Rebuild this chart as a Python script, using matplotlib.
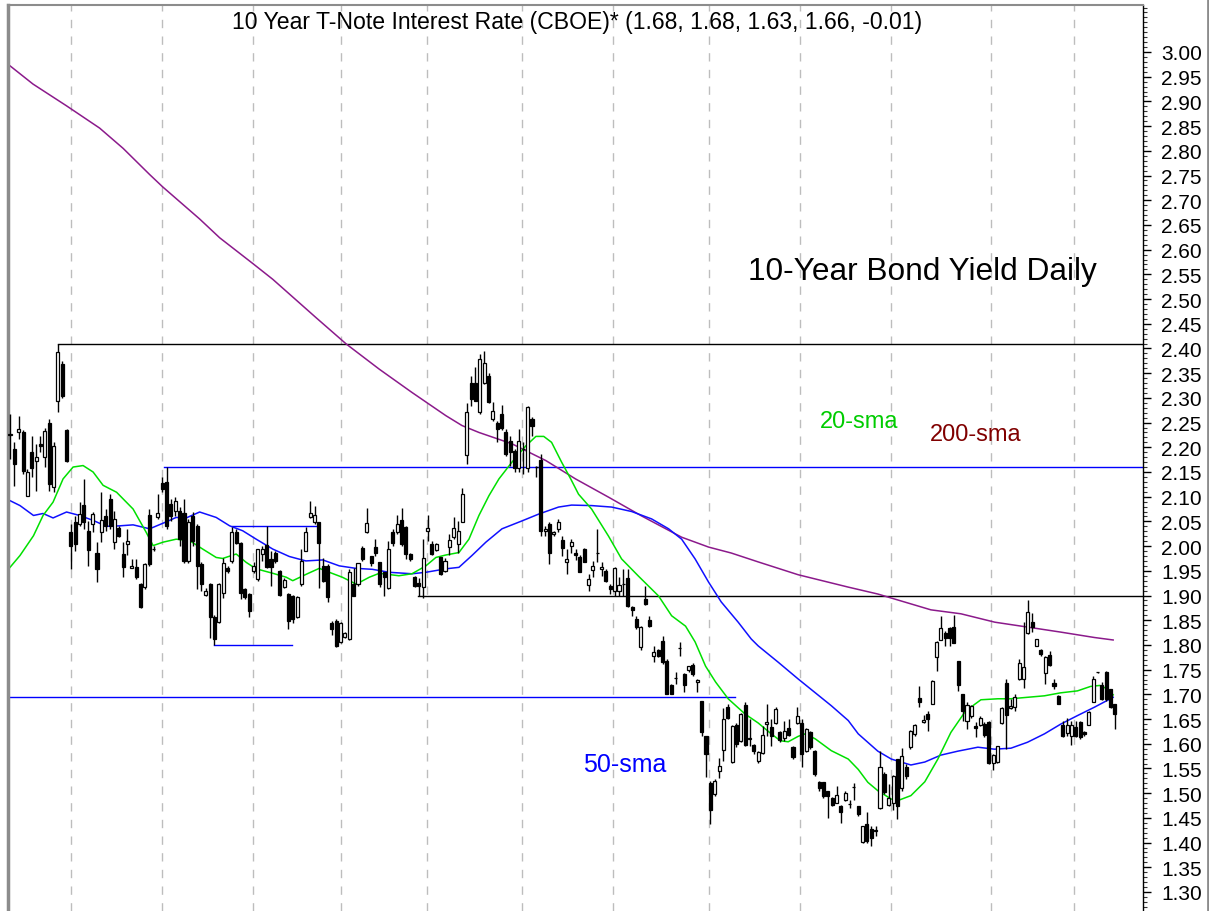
import numpy as np
import matplotlib
matplotlib.use("Agg")
import matplotlib.pyplot as plt
from matplotlib.lines import Line2D
from matplotlib.ticker import MultipleLocator

plt.rcParams['font.family'] = ['Liberation Sans', 'DejaVu Sans']

# daily OHLC, one value per trading day
opens = [
    2.225, 2.197, 2.231, 2.231, 2.101, 2.190, 2.172, 2.207, 2.180, 2.249,
    2.120, 2.294, 2.369, 2.235, 2.029, 2.049, 2.045, 2.083, 2.031, 2.045,
    1.986, 2.029, 2.060, 2.095, 2.008, 2.037, 1.984, 2.004, 1.956, 1.957,
    1.923, 1.917, 2.062, 1.994, 2.058, 2.128, 2.129, 2.085, 2.072, 2.072,
    2.066, 1.970, 2.061, 2.041, 1.964, 1.901, 1.923, 1.856, 1.846, 1.906,
    1.956, 1.970, 2.029, 2.006, 1.913, 1.903, 1.950, 1.933, 1.985, 2.002,
    1.974, 1.987, 1.950, 1.918, 1.903, 1.900, 1.856, 1.923, 1.991, 2.059,
    2.048, 2.048, 1.960, 1.960, 1.844, 1.849, 1.805, 1.817, 1.812, 1.923,
    1.923, 1.997, 2.028, 1.979, 1.999, 1.967, 1.947, 1.916, 2.029, 2.028,
    2.052, 2.038, 1.984, 1.937, 1.925, 1.917, 2.031, 2.004, 1.993, 1.977,
    1.950, 1.998, 2.018, 2.004, 2.049, 2.184, 2.331, 2.331, 2.271, 2.331,
    2.345, 2.257, 2.250, 2.267, 2.230, 2.213, 2.193, 2.159, 2.197, 2.159,
    2.257, 2.161, 2.175, 2.030, 2.045, 2.025, 2.035, 2.013, 1.967, 2.001,
    1.987, 1.977, 1.994, 1.921, 1.952, 1.986, 1.954, 1.950, 1.920, 1.910,
    1.910, 1.923, 1.935, 1.876, 1.852, 1.796, 1.893, 1.850, 1.778, 1.790,
    1.807, 1.768, 1.718, 1.733, 1.793, 1.741, 1.750, 1.759, 1.724, 1.687,
    1.615, 1.520, 1.498, 1.545, 1.587, 1.674, 1.564, 1.637, 1.606, 1.678,
    1.610, 1.597, 1.566, 1.581, 1.640, 1.633, 1.641, 1.623, 1.611, 1.631,
    1.594, 1.641, 1.642, 1.586, 1.623, 1.586, 1.522, 1.522, 1.505, 1.490,
    1.481, 1.475, 1.487, 1.478, 1.512, 1.473, 1.402, 1.437, 1.427, 1.424,
    1.469, 1.539, 1.476, 1.481, 1.569, 1.510, 1.553, 1.593, 1.620, 1.692, 1.643,
    1.660, 1.680, 1.775, 1.809, 1.824, 1.834, 1.836, 1.768, 1.701, 1.647,
    1.657, 1.635, 1.637, 1.640, 1.643, 1.562, 1.564, 1.642, 1.723, 1.673,
    1.674, 1.731, 1.732, 1.824, 1.846, 1.798, 1.790, 1.743, 1.780, 1.722,
    1.697, 1.638, 1.622, 1.616, 1.633, 1.643, 1.624, 1.638, 1.684, 1.745,
    1.718, 1.745, 1.711, 1.680,
]
highs = [
    2.267, 2.211, 2.263, 2.235, 2.156, 2.223, 2.207, 2.223, 2.239, 2.257,
    2.211, 2.410, 2.375, 2.237, 2.045, 2.061, 2.089, 2.136, 2.051, 2.069,
    2.008, 2.109, 2.075, 2.105, 2.072, 2.040, 2.008, 2.035, 1.974, 1.974,
    1.925, 1.966, 2.075, 2.000, 2.105, 2.140, 2.160, 2.095, 2.100, 2.080,
    2.095, 2.055, 2.070, 2.045, 1.967, 1.915, 1.925, 1.860, 1.926, 1.975,
    1.960, 2.038, 2.035, 2.008, 1.915, 1.905, 1.967, 1.995, 2.000, 2.041,
    1.990, 1.990, 1.952, 1.935, 1.905, 1.902, 1.900, 1.995, 2.038, 2.092,
    2.082, 2.048, 1.975, 1.963, 1.849, 1.852, 1.846, 1.826, 1.953, 1.955,
    1.966, 2.000, 2.078, 1.980, 2.014, 1.968, 1.948, 2.011, 2.035, 2.062,
    2.078, 2.040, 1.986, 1.940, 1.935, 2.014, 2.062, 2.011, 2.006, 1.978,
    1.975, 2.024, 2.058, 2.051, 2.117, 2.289, 2.345, 2.362, 2.389, 2.395,
    2.350, 2.291, 2.254, 2.285, 2.237, 2.223, 2.196, 2.237, 2.210, 2.284,
    2.261, 2.163, 2.187, 2.041, 2.048, 2.030, 2.055, 2.020, 1.994, 2.015,
    1.994, 1.981, 1.997, 1.944, 1.970, 2.035, 1.967, 1.954, 1.923, 1.957,
    1.937, 1.954, 1.954, 1.878, 1.859, 1.839, 1.920, 1.859, 1.798, 1.792,
    1.819, 1.771, 1.720, 1.745, 1.805, 1.743, 1.758, 1.763, 1.732, 1.687,
    1.616, 1.525, 1.528, 1.571, 1.672, 1.680, 1.637, 1.642, 1.663, 1.684,
    1.650, 1.600, 1.586, 1.636, 1.680, 1.650, 1.674, 1.626, 1.647, 1.650,
    1.596, 1.674, 1.650, 1.631, 1.626, 1.588, 1.525, 1.523, 1.505, 1.492,
    1.514, 1.476, 1.505, 1.487, 1.520, 1.475, 1.434, 1.462, 1.434, 1.434,
    1.586, 1.542, 1.518, 1.537, 1.555, 1.591, 1.559, 1.628, 1.640, 1.717, 1.658,
    1.667, 1.730, 1.808, 1.859, 1.829, 1.836, 1.861, 1.768, 1.701, 1.684,
    1.678, 1.643, 1.657, 1.643, 1.647, 1.579, 1.596, 1.674, 1.731, 1.690,
    1.701, 1.772, 1.846, 1.890, 1.865, 1.811, 1.792, 1.778, 1.788, 1.731,
    1.699, 1.647, 1.653, 1.647, 1.647, 1.647, 1.626, 1.667, 1.738, 1.746,
    1.725, 1.748, 1.711, 1.680,
]
lows = [
    2.176, 2.122, 2.217, 2.146, 2.101, 2.140, 2.112, 2.190, 2.160, 2.112,
    2.109, 2.271, 2.300, 2.170, 1.954, 1.990, 2.041, 2.035, 1.960, 2.029,
    1.927, 2.008, 2.030, 2.035, 1.994, 2.018, 1.937, 1.981, 1.955, 1.933,
    1.875, 1.913, 1.960, 1.990, 2.055, 2.110, 2.035, 2.050, 2.060, 2.000,
    1.965, 1.965, 2.000, 1.913, 1.910, 1.898, 1.815, 1.800, 1.845, 1.895,
    1.945, 1.966, 2.005, 1.893, 1.893, 1.856, 1.945, 1.930, 1.970, 1.955,
    1.920, 1.965, 1.900, 1.915, 1.833, 1.845, 1.855, 1.920, 1.990, 2.056,
    2.045, 1.916, 1.927, 1.886, 1.820, 1.795, 1.803, 1.815, 1.810, 1.899,
    1.920, 1.970, 2.026, 1.960, 1.980, 1.918, 1.900, 1.914, 2.000, 2.025,
    2.000, 1.974, 1.970, 1.918, 1.898, 1.894, 2.011, 1.981, 1.990, 1.942,
    1.948, 1.981, 2.014, 1.987, 2.049, 2.166, 2.284, 2.294, 2.267, 2.328,
    2.290, 2.254, 2.210, 2.234, 2.183, 2.163, 2.149, 2.149, 2.146, 2.149,
    2.223, 2.139, 2.021, 2.021, 1.964, 2.020, 2.028, 1.980, 1.944, 1.987,
    1.971, 1.947, 1.967, 1.910, 1.937, 1.967, 1.940, 1.927, 1.903, 1.900,
    1.900, 1.900, 1.876, 1.859, 1.832, 1.790, 1.881, 1.836, 1.765, 1.776,
    1.761, 1.701, 1.700, 1.721, 1.778, 1.704, 1.745, 1.738, 1.704, 1.616,
    1.532, 1.438, 1.495, 1.530, 1.566, 1.650, 1.561, 1.593, 1.603, 1.596,
    1.596, 1.580, 1.562, 1.579, 1.616, 1.596, 1.640, 1.603, 1.606, 1.616,
    1.569, 1.640, 1.552, 1.584, 1.589, 1.535, 1.505, 1.491, 1.449, 1.475,
    1.480, 1.440, 1.485, 1.469, 1.487, 1.454, 1.400, 1.400, 1.394, 1.414,
    1.468, 1.498, 1.475, 1.465, 1.448, 1.505, 1.529, 1.590, 1.616, 1.674, 1.641,
    1.626, 1.680, 1.748, 1.809, 1.797, 1.798, 1.804, 1.707, 1.647, 1.630,
    1.653, 1.613, 1.635, 1.613, 1.559, 1.546, 1.562, 1.640, 1.590, 1.670,
    1.667, 1.730, 1.712, 1.822, 1.826, 1.797, 1.778, 1.721, 1.757, 1.711,
    1.680, 1.613, 1.616, 1.597, 1.613, 1.610, 1.616, 1.637, 1.684, 1.744,
    1.688, 1.687, 1.672, 1.630,
]
closes = [
    2.226, 2.166, 2.237, 2.152, 2.150, 2.158, 2.180, 2.203, 2.233, 2.126,
    2.203, 2.393, 2.304, 2.172, 2.000, 2.004, 2.065, 2.049, 1.992, 2.065,
    1.954, 2.053, 2.040, 2.041, 2.055, 2.021, 1.957, 2.010, 1.960, 1.937,
    1.876, 1.964, 1.964, 1.995, 2.066, 2.116, 2.041, 2.060, 2.092, 2.014,
    1.970, 2.049, 2.011, 1.960, 1.923, 1.910, 1.856, 1.812, 1.923, 1.965,
    1.950, 2.028, 2.007, 1.906, 1.896, 1.869, 1.959, 1.994, 1.995, 1.957,
    1.957, 1.970, 1.901, 1.931, 1.849, 1.852, 1.896, 1.970, 2.028, 2.066,
    2.062, 2.006, 1.930, 1.896, 1.833, 1.798, 1.844, 1.824, 1.947, 1.900,
    1.965, 1.974, 2.046, 1.966, 1.987, 1.923, 1.937, 1.994, 2.006, 2.045,
    2.004, 1.984, 1.974, 1.920, 1.920, 1.975, 2.036, 1.984, 2.004, 1.944,
    1.970, 2.013, 2.036, 2.031, 2.105, 2.272, 2.298, 2.294, 2.379, 2.371,
    2.292, 2.274, 2.236, 2.240, 2.186, 2.190, 2.159, 2.213, 2.196, 2.282,
    2.244, 2.160, 2.031, 2.035, 1.987, 2.029, 2.048, 1.997, 1.974, 2.008,
    1.981, 1.948, 1.968, 1.933, 1.960, 1.987, 1.958, 1.930, 1.913, 1.955,
    1.921, 1.924, 1.878, 1.871, 1.836, 1.836, 1.883, 1.839, 1.786, 1.778,
    1.765, 1.701, 1.701, 1.734, 1.794, 1.719, 1.757, 1.741, 1.729, 1.623,
    1.579, 1.465, 1.525, 1.554, 1.650, 1.652, 1.635, 1.599, 1.660, 1.597,
    1.611, 1.585, 1.583, 1.618, 1.645, 1.616, 1.670, 1.608, 1.626, 1.618,
    1.574, 1.657, 1.579, 1.630, 1.593, 1.539, 1.510, 1.495, 1.495, 1.476,
    1.496, 1.461, 1.500, 1.479, 1.513, 1.458, 1.433, 1.404, 1.409, 1.425,
    1.552, 1.502, 1.490, 1.535, 1.475, 1.575, 1.535, 1.626, 1.638, 1.685, 1.648,
    1.650, 1.726, 1.805, 1.834, 1.813, 1.813, 1.804, 1.718, 1.667, 1.678,
    1.676, 1.631, 1.652, 1.618, 1.562, 1.577, 1.596, 1.672, 1.658, 1.676,
    1.694, 1.764, 1.755, 1.867, 1.836, 1.811, 1.782, 1.776, 1.759, 1.717,
    1.680, 1.616, 1.638, 1.637, 1.616, 1.613, 1.620, 1.664, 1.731, 1.745,
    1.691, 1.691, 1.675, 1.660,
]

# moving averages read at sample bars
sma20_x = [0, 2.3, 5.4, 7.6, 9.9, 12.2, 14.5, 16.8, 19.1, 21.4, 24.5, 28.3, 31.3,
           32.9, 35.2, 38.2, 41.3, 44.3, 47.4, 48.9, 52, 54.3, 56.6, 60.4, 63.5,
           65, 68.1, 71.1, 73.4, 76.4, 79.6, 82.6, 84.9, 89.4, 92.4, 95.6, 97.9,
           100.2, 103.2, 105.5, 107.8, 110.1, 112.4, 115.4, 118.6, 120.9, 122.7,
           124.5, 126.8, 128.9, 130.7, 133.7, 137.6, 140.6, 144.5, 149.1, 152.1,
           155.3, 157.5, 159.9, 162.2, 165.1, 169, 172, 175, 177.1, 178.9, 181.2,
           182.8, 185.1, 188.8, 192.7, 195, 197.2, 199.5, 202.6, 204.1, 207.1,
           210.3, 213.3, 216.3, 219.5, 221.8, 223.2, 227.1, 230, 233.9,
           237.8, 241.5, 245.4, 248.4, 250.5, 252.3, 253.6]
sma20_y = [1.957, 1.981, 2.021, 2.062, 2.089, 2.136, 2.160, 2.163, 2.150, 2.123,
           2.109, 2.075, 2.028, 2.001, 2.008, 2.014, 2.011, 1.994, 1.977, 1.975,
           1.984, 1.967, 1.954, 1.945, 1.937, 1.930, 1.943, 1.955, 1.947, 1.937,
           1.923, 1.937, 1.945, 1.940, 1.944, 1.960, 1.977, 1.982, 1.987, 2.014,
           2.062, 2.102, 2.136, 2.170, 2.203, 2.222, 2.222, 2.210, 2.170, 2.136,
           2.105, 2.075, 2.020, 1.974, 1.939, 1.899, 1.859, 1.838, 1.806, 1.757,
           1.725, 1.691, 1.660, 1.642, 1.620, 1.606, 1.604, 1.615, 1.620, 1.610,
           1.586, 1.569, 1.548, 1.522, 1.505, 1.488, 1.485, 1.495, 1.523, 1.569,
           1.623, 1.664, 1.680, 1.689, 1.691, 1.691, 1.694, 1.697, 1.703,
           1.707, 1.716, 1.718, 1.711, 1.699]

sma50_x = [0, 2.3, 5.4, 7.6, 9.9, 13, 16, 19.1, 22.2, 25.2, 28.3, 32.1, 35.9, 38.2,
           40.5, 43.6, 47.4, 50.5, 53.5, 56.6, 60.4, 64.2, 68, 71.9, 75.7, 79.5,
           83.3, 87.2, 92.4, 95.6, 100.2, 103.2, 106.2, 109.4, 113.1, 117.7,
           121.6, 126.1, 129.1, 133.7, 138.3, 142.9, 147.5, 151.4, 154.4, 157.5,
           160.6, 163.5, 167.4, 170.4, 172, 176.6, 181.2, 185, 188.8, 192.7, 195,
           199.5, 202.6, 207.1, 210.3, 214, 217.9, 222.5, 226.3, 230.1, 233.9,
           237.8, 241.6, 245.4, 249.3, 253.6]
sma50_y = [2.092, 2.082, 2.062, 2.066, 2.057, 2.069, 2.062, 2.052, 2.040, 2.041,
           2.043, 2.035, 2.049, 2.058, 2.057, 2.069, 2.058, 2.041, 2.031, 2.014,
           1.994, 1.979, 1.970, 1.972, 1.960, 1.955, 1.953, 1.947, 1.944, 1.947,
           1.954, 1.957, 1.981, 2.008, 2.035, 2.051, 2.065, 2.079, 2.083, 2.082,
           2.079, 2.070, 2.055, 2.035, 2.014, 1.974, 1.927, 1.887, 1.846, 1.812,
           1.798, 1.765, 1.731, 1.704, 1.677, 1.647, 1.620, 1.585, 1.569, 1.557,
           1.563, 1.577, 1.585, 1.593, 1.589, 1.591, 1.603, 1.620, 1.640, 1.657,
           1.674, 1.694]

sma200_x = [0, 5.3, 13, 20.6, 26, 32.1, 35.1, 43.6, 48.2, 55.8, 60.4, 70.4, 77.3,
            84.9, 92.4, 100.2, 103.9, 107.8, 115.4, 123.2, 130, 137.6, 145.2,
            154.4, 160.6, 165.8, 172, 181.2, 192.7, 199.5, 211.7, 218.6, 226.4,
            234, 241.5, 249.3, 253.6]
sma200_y = [2.972, 2.935, 2.891, 2.846, 2.805, 2.752, 2.727, 2.662, 2.624, 2.572,
            2.540, 2.462, 2.409, 2.358, 2.311, 2.264, 2.244, 2.230, 2.207, 2.173,
            2.136, 2.099, 2.061, 2.018, 1.998, 1.986, 1.968, 1.942, 1.917, 1.903,
            1.871, 1.863, 1.846, 1.836, 1.826, 1.815, 1.810]

# trend lines: (level, first bar, last bar, colour)
levels = [
    (2.41, 11, 262, 'black'),
    (2.16, 35.5, 262, 'blue'),
    (2.04, 51.1, 70.7, 'blue'),
    (1.80, 46.8, 64.9, 'blue'),
    (1.90, 93.7, 262, 'black'),
    (1.695, -1, 166.7, 'blue'),
]

month_lines = [14.1, 35.0, 55.8, 76.2, 95.8, 117.7, 138.6, 160.7, 181.6, 202.5, 225.5, 244.5]

W, H = 1209, 912
BAR = 4.35  # pixels per trading day
fig = plt.figure(figsize=(W / 100, H / 100), dpi=100)
ax = fig.add_axes([8 / W, 0, 1135 / W, 906 / H])

ax.set_xlim(-2 / BAR, 1133 / BAR)
ax.set_ylim(1.2615, 3.0951)

for m in month_lines:
    ax.axvline(m, color='#bdbdbd', lw=1, ls=(0, (6, 6)), zorder=0)

for lvl, x0, x1, c in levels:
    col = '#0000ff' if c == 'blue' else '#000000'
    ax.plot([x0, x1], [lvl, lvl], color=col, lw=1.0, zorder=1)

ax.plot(sma200_x, sma200_y, color='#8b1a8b', lw=1.1, zorder=2)
ax.plot(sma50_x, sma50_y, color='#1010ff', lw=1.1, zorder=2)
ax.plot(sma20_x, sma20_y, color='#00e000', lw=1.1, zorder=2)

idx = np.arange(len(opens))
o = np.array(opens)
h = np.array(highs)
l = np.array(lows)
c = np.array(closes)
ax.vlines(idx, l, h, color='black', lw=1.0, zorder=3)
up = c >= o
body_lo = np.minimum(o, c)
body_h = np.abs(c - o)
ax.bar(idx[up], body_h[up], bottom=body_lo[up], width=0.7, color='white',
       edgecolor='black', lw=0.9, zorder=4)
ax.bar(idx[~up], body_h[~up], bottom=body_lo[~up], width=0.7, color='black',
       edgecolor='black', lw=0.9, zorder=4)

# axis styling
ax.set_xticks([])
ax.yaxis.tick_right()
majors = np.round(np.arange(1.30, 3.001, 0.05), 2)
ax.set_yticks(majors)
ax.set_yticklabels([f'{v:.2f}' for v in majors])
ax.yaxis.set_minor_locator(MultipleLocator(0.01))
ax.tick_params(axis='y', which='major', length=6, width=1, pad=7, labelsize=15, colors='black')
ax.tick_params(axis='y', which='minor', length=3, width=0.8, colors='#333333')
ax.spines['bottom'].set_visible(False)
ax.spines['left'].set_color('#8c8c8c')
ax.spines['left'].set_linewidth(2.5)
ax.spines['top'].set_color('#8c8c8c')
ax.spines['top'].set_linewidth(1.5)
ax.spines['right'].set_color('black')
ax.spines['right'].set_linewidth(1.0)

fig.add_artist(Line2D([1207.5 / W, 1207.5 / W], [0, 1], color='#8c8c8c', lw=2,
                      transform=fig.transFigure))

fig.text(577 / W, 1 - 22 / H, '10 Year T-Note Interest Rate (CBOE)* (1.68, 1.68, 1.63, 1.66, -0.01)',
         ha='center', va='center', fontsize=16.6)
fig.text(922 / W, 1 - 272 / H, '10-Year Bond Yield Daily', ha='center', va='center', fontsize=22.8)
fig.text(859 / W, 1 - 422 / H, '20-sma', ha='center', va='center', fontsize=17, color='#00cc00')
fig.text(976 / W, 1 - 435 / H, '200-sma', ha='center', va='center', fontsize=17, color='#800000')
fig.text(625 / W, 1 - 765 / H, '50-sma', ha='center', va='center', fontsize=18, color='#0000ff')

fig.savefig('out.png', dpi=100)
